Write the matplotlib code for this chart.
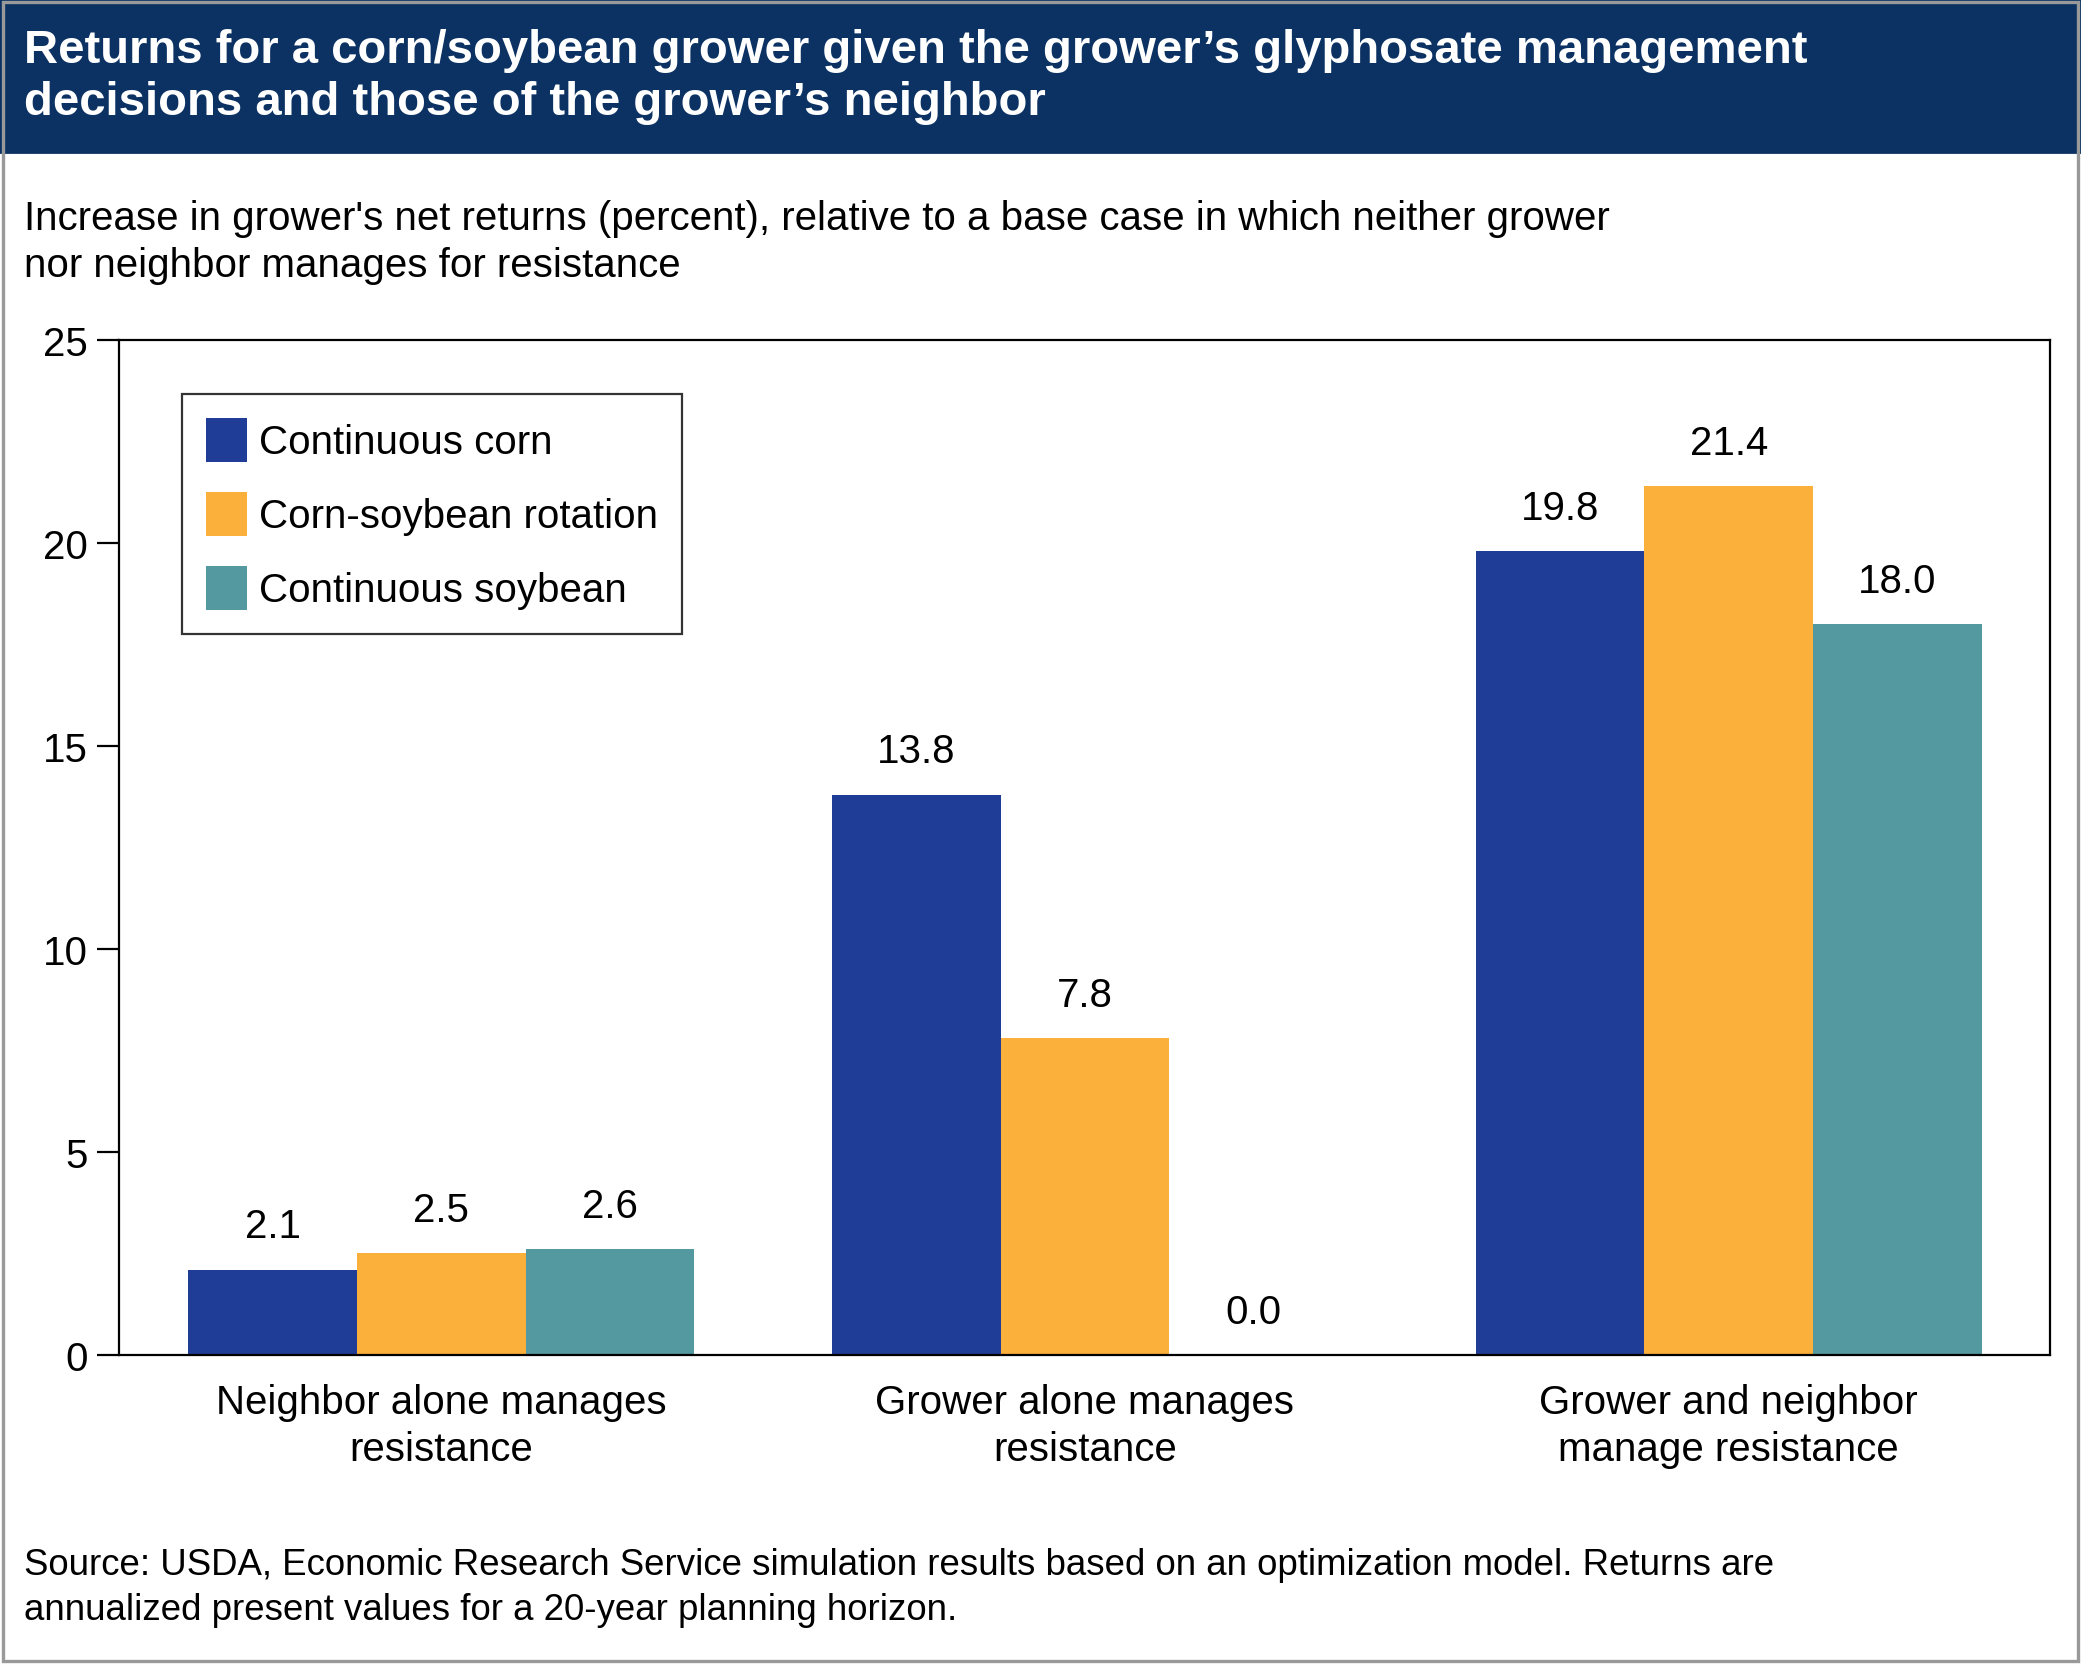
import matplotlib
matplotlib.use('Agg')
import matplotlib.pyplot as plt
from matplotlib.patches import Rectangle
import numpy as np

plt.rcParams['font.family'] = ['Liberation Sans', 'DejaVu Sans']

categories = ['Neighbor alone manages\nresistance', 'Grower alone manages\nresistance',
              'Grower and neighbor\nmanage resistance']
series = ['Continuous corn', 'Corn-soybean rotation', 'Continuous soybean']
corn = [2.1, 13.8, 19.8]
rotation = [2.5, 7.8, 21.4]
soybean = [2.6, 0.0, 18.0]
colors = ['#1f3d96', '#fbb03b', '#5499a0']

W, H = 1568, 1255
fig = plt.figure(figsize=(2081 / 200, 1665 / 200), dpi=200)

# title band and border
fig.patches.append(Rectangle((0, 1 - 115 / H), 1, 115 / H, transform=fig.transFigure,
                             color='#0b3262', zorder=0))
fig.patches.append(Rectangle((0.0015, 0.002), 0.997, 0.996, transform=fig.transFigure,
                             fill=False, edgecolor='#999999', lw=1.2, zorder=1))
fig.text(18 / W, 1 - 58 / H,
         'Returns for a corn/soybean grower given the grower\u2019s glyphosate management\n'
         'decisions and those of the grower\u2019s neighbor',
         color='white', fontsize=17, fontweight='bold', va='center', linespacing=1.25)
fig.text(18 / W, 1 - 183 / H,
         "Increase in grower's net returns (percent), relative to a base case in which neither grower\n"
         'nor neighbor manages for resistance',
         fontsize=14.5, va='center', linespacing=1.3)
fig.text(18 / W, 1 - 1197 / H,
         'Source: USDA, Economic Research Service simulation results based on an optimization model. Returns are\n'
         'annualized present values for a 20-year planning horizon.',
         fontsize=13.2, va='center', linespacing=1.35)

ax = fig.add_axes([90 / W, 1 - 1022 / H, (1545 - 90) / W, (1022 - 257) / H])
x = np.arange(len(categories))
w = 0.262
for i, (vals, name) in enumerate(zip([corn, rotation, soybean], series)):
    pos = x + (i - 1) * w
    ax.bar(pos, vals, width=w, color=colors[i], label=name)
    for p, v in zip(pos, vals):
        ax.text(p, v + 0.6, f'{v:.1f}', ha='center', va='bottom', fontsize=14.5)

ax.set_xlim(-0.5, 2.5)
ax.set_ylim(0, 25)
ax.set_yticks(range(0, 26, 5))
ax.set_xticks(x)
ax.set_xticklabels(categories, fontsize=14.5, linespacing=1.3)
ax.tick_params(axis='x', length=0, pad=10)
ax.tick_params(axis='y', labelsize=14.5, length=8, width=0.8, direction='out')
for s in ax.spines.values():
    s.set_linewidth(0.8)

leg = ax.legend(loc='upper left', bbox_to_anchor=(0.022, 0.967), fontsize=14.5,
                frameon=True, fancybox=False, edgecolor='black', handlelength=1.0,
                handleheight=1.3, labelspacing=0.75, borderpad=0.6, handletextpad=0.3)
leg.get_frame().set_linewidth(0.8)

fig.savefig('out.png', dpi=200)
